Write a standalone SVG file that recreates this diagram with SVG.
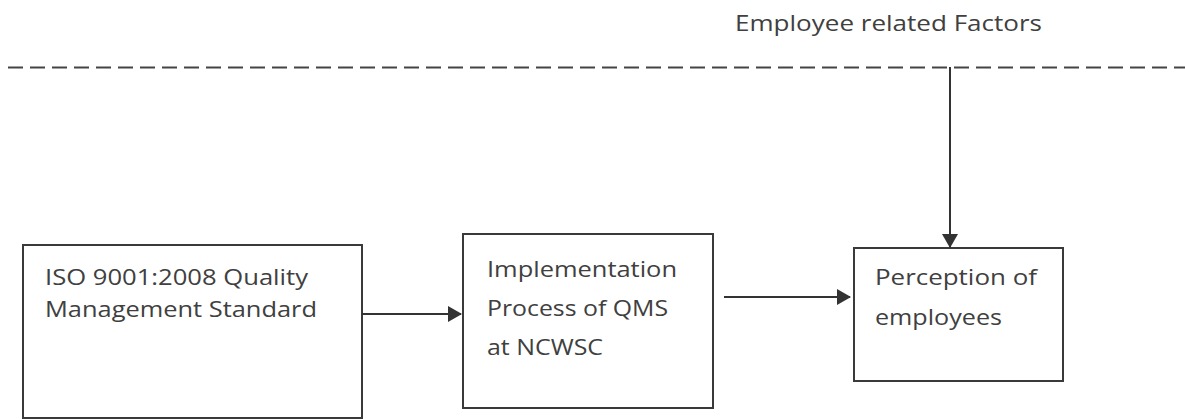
<svg xmlns="http://www.w3.org/2000/svg" width="1185" height="420" viewBox="0 0 1185 420">
<style>
.box{fill:#fff;stroke:#3a3a3a;stroke-width:2}
.t{font-family:"Open Sans","Liberation Sans",sans-serif;font-size:21px;fill:#404040}
.c{stroke:#333;stroke-width:2;fill:none}
</style>
<defs>
<marker id="ah" markerWidth="14" markerHeight="16" refX="13" refY="8" orient="auto" markerUnits="userSpaceOnUse">
<path d="M0,0 L14,8 L0,16 Z" fill="#333"/>
</marker>
</defs>
<rect width="1185" height="420" fill="#fff"/>
<text class="t" x="735" y="31" textLength="307" lengthAdjust="spacingAndGlyphs">Employee related Factors</text>
<line x1="8" y1="67.5" x2="1185" y2="67.5" stroke="#444" stroke-width="2" stroke-dasharray="15 7"/>
<g id="n1">
<rect class="box" x="23" y="245" width="339" height="173"/>
<text class="t" x="45" y="285" textLength="263" lengthAdjust="spacingAndGlyphs">ISO 9001:2008 Quality</text>
<text class="t" x="45" y="317" textLength="272" lengthAdjust="spacingAndGlyphs">Management Standard</text>
</g>
<g id="n2">
<rect class="box" x="463" y="234" width="250" height="174"/>
<text class="t" x="487" y="277" textLength="190" lengthAdjust="spacingAndGlyphs">Implementation</text>
<text class="t" x="487" y="316" textLength="181" lengthAdjust="spacingAndGlyphs">Process of QMS</text>
<text class="t" x="487" y="355" textLength="116" lengthAdjust="spacingAndGlyphs">at NCWSC</text>
</g>
<g id="n3">
<rect class="box" x="854" y="248" width="209" height="133"/>
<text class="t" x="875" y="285" textLength="162" lengthAdjust="spacingAndGlyphs">Perception of</text>
<text class="t" x="875" y="325" textLength="127" lengthAdjust="spacingAndGlyphs">employees</text>
</g>
<g id="connectors">
<line class="c" x1="362" y1="314" x2="461" y2="314" marker-end="url(#ah)"/>
<line class="c" x1="724" y1="297" x2="850" y2="297" marker-end="url(#ah)"/>
<line class="c" x1="950" y1="67" x2="950" y2="247" marker-end="url(#ah)"/>
</g>
</svg>
